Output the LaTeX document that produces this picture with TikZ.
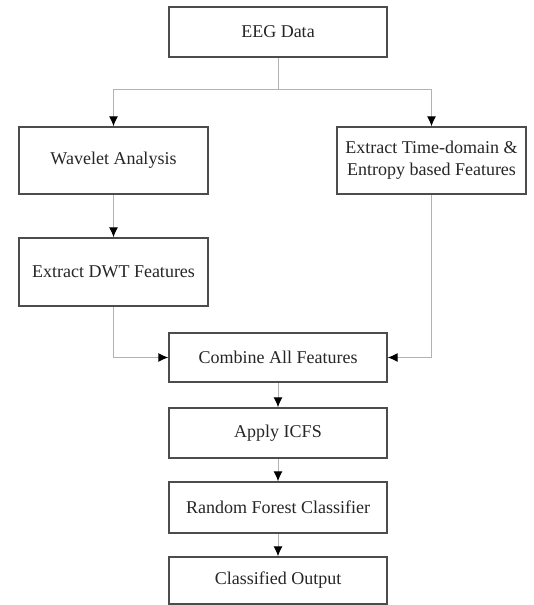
\documentclass[tikz,border=0pt]{standalone}
\usepackage{fontspec}
\setmainfont{Liberation Serif}
\usetikzlibrary{arrows.meta,positioning}

\begin{document}
\begin{tikzpicture}[x=1pt,y=1pt,
  stage/.style={draw=black!70,line width=1.4pt,fill=white,text=black!85,font=\fontsize{18}{22}\selectfont,align=center,inner sep=0pt},
  wide/.style={stage,minimum width=218pt},
  side/.style={stage,minimum width=189pt},
  flow/.style={draw=black!30,line width=1pt,-{Latex[color=black,length=10pt,width=9pt]}}]
\useasboundingbox (0,0) rectangle (534,-605);
\node[wide,minimum height=50pt] (eeg) at (278,-32) {EEG Data};
\node[side,minimum height=67pt] (wav) at (113.5,-160.5) {Wavelet Analysis};
\node[side,minimum height=67pt] (ext) at (431.5,-160.5) {Extract Time-domain \&\\Entropy based Features};
\node[side,minimum height=68pt] (dwt) at (113.5,-272) {Extract DWT Features};
\node[wide,minimum height=49pt] (comb) at (278,-357.5) {Combine All Features};
\node[wide,minimum height=50pt] (icfs) at (278,-433) {Apply ICFS};
\node[wide,minimum height=51pt] (rf) at (278,-507.5) {Random Forest Classifier};
\node[wide,minimum height=47pt] (out) at (278,-580.5) {Classified Output};
\coordinate (split) at (278,-89);
\draw[flow,-] (eeg) -- (split);
\draw[flow] (split) -| (wav);
\draw[flow] (split) -| (ext);
\draw[flow] (wav) -- (dwt);
\draw[flow] (dwt) |- (comb);
\draw[flow] (ext) |- (comb);
\draw[flow] (comb) -- (icfs);
\draw[flow] (icfs) -- (rf);
\draw[flow] (rf) -- (out);
\end{tikzpicture}
\end{document}
